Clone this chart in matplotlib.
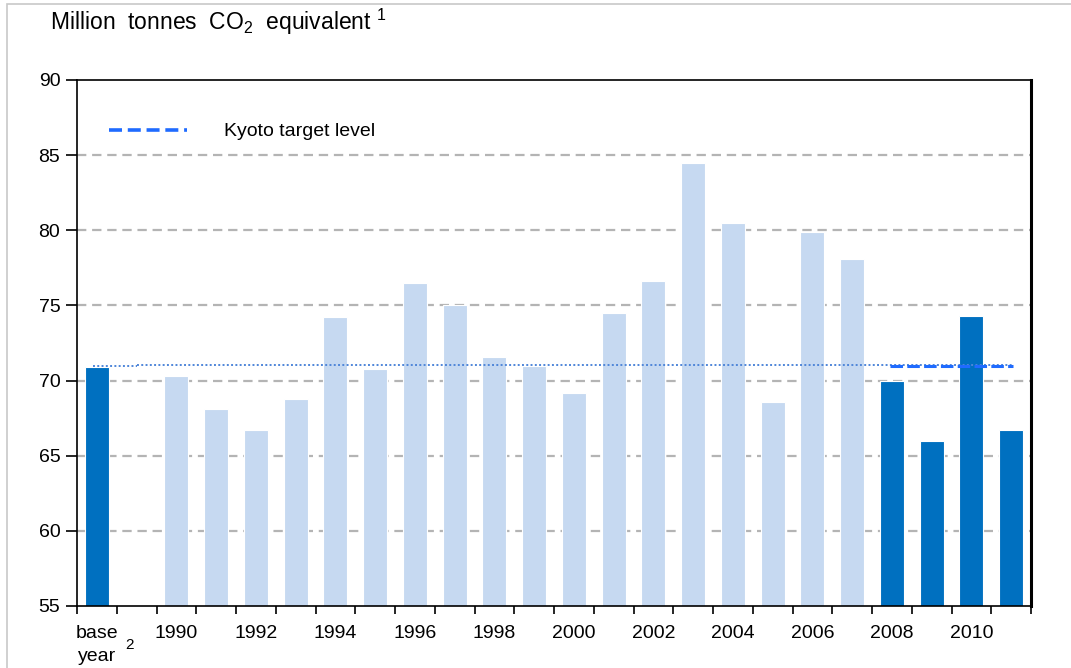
"""Greenhouse gas emissions against the Kyoto target level."""

import matplotlib

matplotlib.use("Agg")

import matplotlib.pyplot as plt
import numpy as np
from matplotlib.lines import Line2D
from matplotlib.patches import Rectangle
from matplotlib.transforms import blended_transform_factory

plt.rcParams["font.family"] = ["Liberation Sans", "DejaVu Sans"]
plt.rcParams["mathtext.default"] = "regular"

# data (slot 1 is an empty gap between the base year and 1990)
categories = ["base year"] + [str(y) for y in range(1990, 2012)]
emissions = [70.9, 70.3, 68.1, 66.7, 68.8, 74.2, 70.8, 76.5, 75.0, 71.6, 71.0,
             69.2, 74.5, 76.6, 84.5, 80.5, 68.6, 79.9, 78.1, 70.0, 66.0, 74.3, 66.7]
kyoto_period = ["2008", "2009", "2010", "2011"]
kyoto_base_level = 70.95
kyoto_target = 71.05

DARK = "#0070C0"
LIGHT = "#C6D9F1"

slots = np.array([0] + list(range(2, 24)))
colors = [DARK if (c == "base year" or c in kyoto_period) else LIGHT for c in categories]

fig = plt.figure(figsize=(10.71, 6.68), dpi=100)
ax = fig.add_axes([77 / 1071, 1 - 606 / 668, 954 / 1071, 526 / 668])

ax.bar(slots, emissions, width=0.6, color=colors, edgecolor="white", linewidth=0.8, zorder=2)

ax.set_xlim(-0.5, 23.5)
ax.set_ylim(55, 90)
ax.set_yticks(np.arange(55, 91, 5))
for level in range(60, 90, 5):
    ax.axhline(level, color="#B4B4B4", linewidth=1.6, dashes=(4.2, 2.6), zorder=1)

# Kyoto target: dotted reference over the whole period, dashed over 2008-2011
ax.plot([-0.1, 1.0], [kyoto_base_level] * 2, color="#4F86D9", linestyle=(0, (1, 1.2)),
        linewidth=1.4, zorder=3)
ax.plot([1.0, 23.05], [kyoto_target] * 2, color="#4F86D9", linestyle=(0, (1, 1.2)),
        linewidth=1.4, zorder=3)
k_start = slots[categories.index(kyoto_period[0])] - 0.05
k_end = slots[categories.index(kyoto_period[-1])] + 0.05
ax.plot([k_start, k_end], [kyoto_target - 0.05] * 2, color="#1F6BFF", linewidth=2.2,
        dashes=(4.1, 1.4), zorder=4)

legend_handle = Line2D([], [], color="#1F6BFF", linewidth=2.6, dashes=(3.6, 1.6))
ax.legend([legend_handle], ["Kyoto target level"], loc="upper left",
          bbox_to_anchor=(0.015, 0.952), frameon=False, fontsize=14,
          handlelength=4.0, handletextpad=1.9)

# x axis: labels on every other year, tick marks between slots
label_slots = [0] + list(range(2, 24, 2))
label_text = ["base\nyear"] + [str(y) for y in range(1990, 2012, 2)]
ax.set_xticks(label_slots)
ax.set_xticklabels(label_text, fontsize=14, linespacing=1.45)
ax.tick_params(axis="x", which="major", length=0, pad=14)
ax.set_xticks(np.arange(-0.5, 23.6, 1.0), minor=True)
ax.tick_params(axis="x", which="minor", length=6, width=1.2, direction="out")
ax.tick_params(axis="y", length=8, width=1.2, labelsize=14, pad=4)

trans = blended_transform_factory(ax.transData, ax.transAxes)
ax.text(0.82, -0.075, "2", transform=trans, fontsize=11, ha="center", va="center")

for side in ["left", "top", "bottom"]:
    ax.spines[side].set_linewidth(1.2)
ax.spines["right"].set_linewidth(2.2)

fig.text(50 / 1071, 1 - 22 / 668, "Million  tonnes  CO$_2$  equivalent $^{1}$",
         fontsize=16.5, ha="left", va="center")

fig.patches.append(Rectangle((7 / 1071, -0.1), 2, 1.1 - 4 / 668, transform=fig.transFigure,
                             fill=False, edgecolor="#C8C8C8", linewidth=1.2, zorder=0))

fig.savefig("out.png", dpi=100)
